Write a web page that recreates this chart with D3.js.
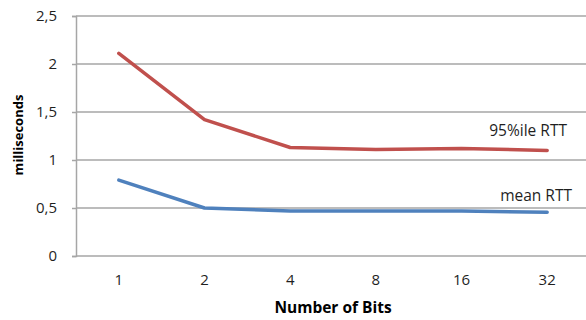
<!DOCTYPE html>
<html><head><meta charset="utf-8">
<script src="https://cdn.jsdelivr.net/npm/d3@7"></script>
<style>body{margin:0;background:#fff}svg{display:block}text{font-family:"Open Sans",Lato,sans-serif}</style>
</head><body>
<svg id="c" width="586" height="320"></svg>
<script>
const categories = ["1","2","4","8","16","32"];
const p95 = [2.11, 1.42, 1.13, 1.11, 1.12, 1.10];
const mean = [0.79, 0.50, 0.47, 0.47, 0.47, 0.455];
const yTicks = [0, 0.5, 1, 1.5, 2, 2.5];
const seriesNames = ["95%ile RTT", "mean RTT"];

const svg = d3.select("#c");
const FONT = "'Open Sans', Lato, sans-serif";
const m = {left: 76, top: 16, right: 590, bottom: 256};
const x = d3.scaleBand().domain(categories).range([m.left, m.right]);
const y = d3.scaleLinear().domain([0, 2.5]).range([m.bottom, m.top]);
const fmt = d => String(d).replace(".", ",");

// gridlines
svg.append("g").selectAll("line").data(yTicks).join("line")
  .attr("x1", m.left).attr("x2", m.right)
  .attr("y1", d => y(d)).attr("y2", d => y(d))
  .attr("stroke", "#a6a6a6").attr("stroke-width", 1.5);

// y axis
const ya = svg.append("g").attr("transform", `translate(${m.left},0)`)
  .call(d3.axisLeft(y).tickValues(yTicks).tickFormat(fmt).tickSize(4).tickPadding(15));
ya.select(".domain").attr("stroke", "#a6a6a6").attr("stroke-width", 1.5);
ya.selectAll(".tick line").attr("stroke", "#a6a6a6").attr("stroke-width", 1.5);
ya.selectAll("text").attr("font-size", 15).attr("fill", "#1f1f1f").attr("font-family", FONT);

// x axis
const xa = svg.append("g").attr("transform", `translate(0,${m.bottom})`)
  .call(d3.axisBottom(x).tickSize(0).tickPadding(18));
xa.select(".domain").remove();
xa.selectAll("text").attr("font-size", 15).attr("fill", "#1f1f1f").attr("font-family", FONT);

const line = d3.line().x((d, i) => x(categories[i]) + x.bandwidth() / 2).y(d => y(d));
svg.append("path").datum(p95).attr("d", line).attr("fill", "none")
  .attr("stroke", "#c0504d").attr("stroke-width", 3.5).attr("stroke-linejoin", "round").attr("stroke-linecap", "round");
svg.append("path").datum(mean).attr("d", line).attr("fill", "none")
  .attr("stroke", "#4f81bd").attr("stroke-width", 3.5).attr("stroke-linejoin", "round").attr("stroke-linecap", "round");

// series labels
svg.append("text").attr("x", 567).attr("y", 136).attr("text-anchor", "end")
  .attr("font-size", 15.5).attr("fill", "#1f1f1f").text(seriesNames[0]);
svg.append("text").attr("x", 572).attr("y", 201).attr("text-anchor", "end")
  .attr("font-size", 15.5).attr("fill", "#1f1f1f").text(seriesNames[1]);

// axis titles
svg.append("text").attr("transform", "translate(23,135) rotate(-90)").attr("text-anchor", "middle")
  .attr("font-size", 13).attr("font-weight", "bold").attr("fill", "#000").text("milliseconds");
svg.append("text").attr("x", 333).attr("y", 313).attr("text-anchor", "middle")
  .attr("font-size", 15.5).attr("font-weight", "bold").attr("fill", "#000").text("Number of Bits");
</script>
</body></html>
